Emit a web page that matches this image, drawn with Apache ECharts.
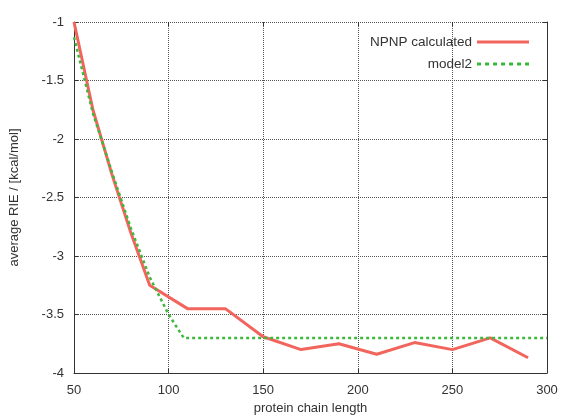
<!DOCTYPE html>
<html><head><meta charset="utf-8">
<script src="https://cdn.jsdelivr.net/npm/echarts@6/dist/echarts.min.js"></script>
<style>html,body{margin:0;padding:0;background:#fff}#c{width:562px;height:420px}</style>
</head><body><div id="c"></div>
<script>
var npnpX = [50, 60, 70, 80, 90, 110, 130, 150, 170, 190, 210, 230, 250, 270, 290];
var npnpY = [-1.0, -1.75, -2.3, -2.8, -3.25, -3.45, -3.45, -3.69, -3.80, -3.75, -3.84, -3.74, -3.80, -3.70, -3.87];
var modelX = [50, 60, 70, 80, 90, 100, 108, 300];
var modelY = [-1.13, -1.78, -2.28, -2.76, -3.18, -3.5, -3.7, -3.7];
var xTicks = [50, 100, 150, 200, 250, 300];
var yTicks = [-4, -3.5, -3, -2.5, -2, -1.5, -1];

function pairs(xs, ys){ return xs.map(function(x,i){ return [x, ys[i]]; }); }

var chart = echarts.init(document.getElementById('c'), null, {renderer:'canvas'});
var font = 'Liberation Sans, Arial, sans-serif';
chart.setOption({
  animation:false,
  backgroundColor:'#fff',
  textStyle:{fontFamily:font},
  grid:{left:73, right:15, top:22, bottom:44, containLabel:false},
  legend:{
    orient:'vertical', right:28, top:30, align:'right', itemGap:8,
    itemWidth:52, itemHeight:10,
    textStyle:{fontFamily:font, fontSize:13.5, color:'#333'},
    data:[
      {name:'NPNP calculated', icon:'path://M0,4L52,4L52,7L0,7Z', itemStyle:{color:'#f2655d'}},
      {name:'model2', icon:'path://M0,4L4,4L4,7L0,7ZM8,4L12,4L12,7L8,7ZM16,4L20,4L20,7L16,7ZM24,4L28,4L28,7L24,7ZM32,4L36,4L36,7L32,7ZM40,4L44,4L44,7L40,7ZM48,4L52,4L52,7L48,7Z', itemStyle:{color:'#3db83d'}}
    ]
  },
  xAxis:[{
    type:'value', min:50, max:300, interval:50,
    name:'protein chain length', nameLocation:'middle', nameGap:29,
    nameTextStyle:{fontFamily:font, fontSize:13, color:'#333'},
    axisLine:{show:true, lineStyle:{color:'#333', width:1}},
    axisTick:{show:true, inside:true, length:4, lineStyle:{color:'#333'}},
    axisLabel:{fontFamily:font, fontSize:13, color:'#333', margin:11},
    splitLine:{show:true, lineStyle:{color:'#555', type:[1,1], width:1}}
  },{
    type:'value', position:'top', min:50, max:300, interval:50,
    axisLine:{show:false},
    axisTick:{show:true, inside:true, length:4, lineStyle:{color:'#333'}},
    axisLabel:{show:false}, splitLine:{show:false}
  }],
  yAxis:[{
    type:'value', min:-4, max:-1, interval:0.5,
    name:'average RIE / [kcal/mol]', nameLocation:'middle', nameGap:53, nameRotate:90,
    nameTextStyle:{fontFamily:font, fontSize:13, color:'#333'},
    axisLine:{show:true, lineStyle:{color:'#333', width:1}},
    axisTick:{show:true, inside:true, length:4, lineStyle:{color:'#333'}},
    axisLabel:{fontFamily:font, fontSize:13, color:'#333', margin:10},
    splitLine:{show:true, lineStyle:{color:'#555', type:[1,1], width:1}}
  },{
    type:'value', position:'right', min:-4, max:-1, interval:0.5,
    axisLine:{show:true, lineStyle:{color:'#333', width:1}},
    axisTick:{show:true, inside:true, length:4, lineStyle:{color:'#333'}},
    axisLabel:{show:false}, splitLine:{show:false}
  }],
  series:[
    {name:'NPNP calculated', type:'line', data:pairs(npnpX, npnpY), showSymbol:false, symbol:'none',
     lineStyle:{color:'#f2655d', width:3}, itemStyle:{color:'#f2655d'}, z:3},
    {name:'model2', type:'line', data:pairs(modelX, modelY), showSymbol:false, symbol:'none',
     lineStyle:{color:'#3db83d', width:2.5, type:[3,3]}, itemStyle:{color:'#3db83d'}, z:4}
  ]
});
</script></body></html>
